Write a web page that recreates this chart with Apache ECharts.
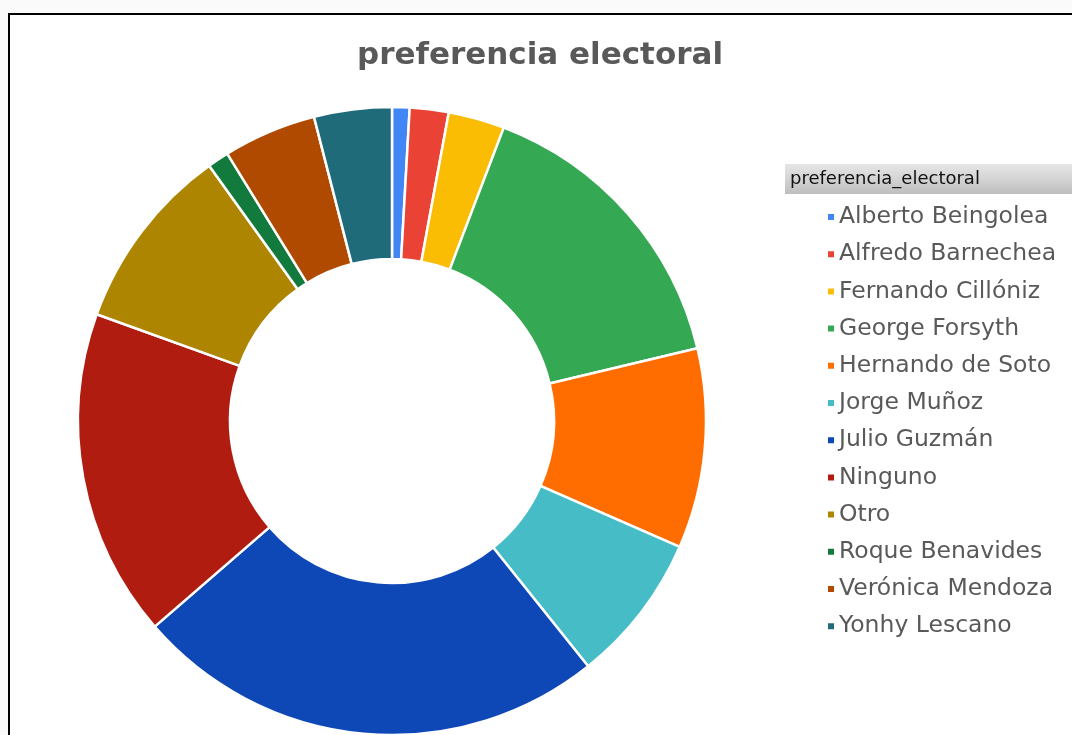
<!DOCTYPE html>
<html>
<head>
<meta charset="utf-8">
<title>preferencia electoral</title>
<script src="https://cdn.jsdelivr.net/npm/echarts@6/dist/echarts.min.js"></script>
<style>
	html, body { margin: 0; padding: 0; background: #fafafa; }
	#chart { width: 1072px; height: 735px; }
</style>
</head>
<body>
<div id="chart"></div>
<script>
// candidatos y porcentajes
var candidatos = ['Alberto Beingolea', 'Alfredo Barnechea', 'Fernando Cillóniz', 'George Forsyth',
	'Hernando de Soto', 'Jorge Muñoz', 'Julio Guzmán', 'Ninguno', 'Otro', 'Roque Benavides',
	'Verónica Mendoza', 'Yonhy Lescano'];
var porcentajes = [0.9, 2.0, 2.9, 15.5, 10.3, 7.7, 24.4, 16.9, 9.6, 1.1, 4.8, 4.0];
var colores = ['#4285f4', '#ea4335', '#fbbc04', '#34a853', '#ff6d01', '#46bdc6',
	'#0e47b6', '#b01c10', '#ad8500', '#137a3e', '#b04a00', '#1f6b7a'];

var chart = echarts.init(document.getElementById('chart'));

var datos = [];
for (var i = 0; i < candidatos.length; i++) {
	datos.push({ name: candidatos[i], value: porcentajes[i], itemStyle: { color: colores[i] } });
}

var option = {
	backgroundColor: '#fafafa',
	animation: false,
	title: {
		text: 'preferencia electoral',
		left: 535,
		textAlign: 'center',
		top: 35,
		textStyle: {
			fontFamily: 'DejaVu Sans',
			fontSize: 31,
			fontWeight: 'bold',
			color: '#595959'
		}
	},
	graphic: [
		{
			type: 'rect',
			z: -10,
			shape: { x: 9, y: 14, width: 1100, height: 800 },
			style: { fill: '#ffffff', stroke: '#000000', lineWidth: 2 }
		},
		{
			type: 'rect',
			shape: { x: 785, y: 164, width: 290, height: 30 },
			style: {
				fill: new echarts.graphic.LinearGradient(0, 0, 0, 1, [
					{ offset: 0, color: '#e6e6e6' },
					{ offset: 0.5, color: '#d4d4d4' },
					{ offset: 1, color: '#bdbdbd' }
				])
			}
		},
		{
			type: 'text',
			x: 790,
			y: 179,
			style: {
				text: 'preferencia_electoral',
				fontFamily: 'DejaVu Sans',
				fontSize: 18,
				fill: '#111111',
				verticalAlign: 'middle'
			}
		}
	],
	legend: {
		orient: 'vertical',
		left: 821,
		top: 199,
		icon: 'rect',
		itemWidth: 8,
		itemHeight: 8,
		itemGap: 11.2,
		data: candidatos,
		textStyle: {
			fontFamily: 'DejaVu Sans',
			fontSize: 23.5,
			lineHeight: 26,
			color: '#595959',
			padding: [0, 0, 0, -1]
		}
	},
	series: [{
		type: 'pie',
		center: [392, 421],
		radius: [162, 314],
		startAngle: 90,
		clockwise: true,
		label: { show: false },
		labelLine: { show: false },
		itemStyle: { borderColor: '#ffffff', borderWidth: 2.5 },
		data: datos
	}]
};

chart.setOption(option);
</script>
</body>
</html>
